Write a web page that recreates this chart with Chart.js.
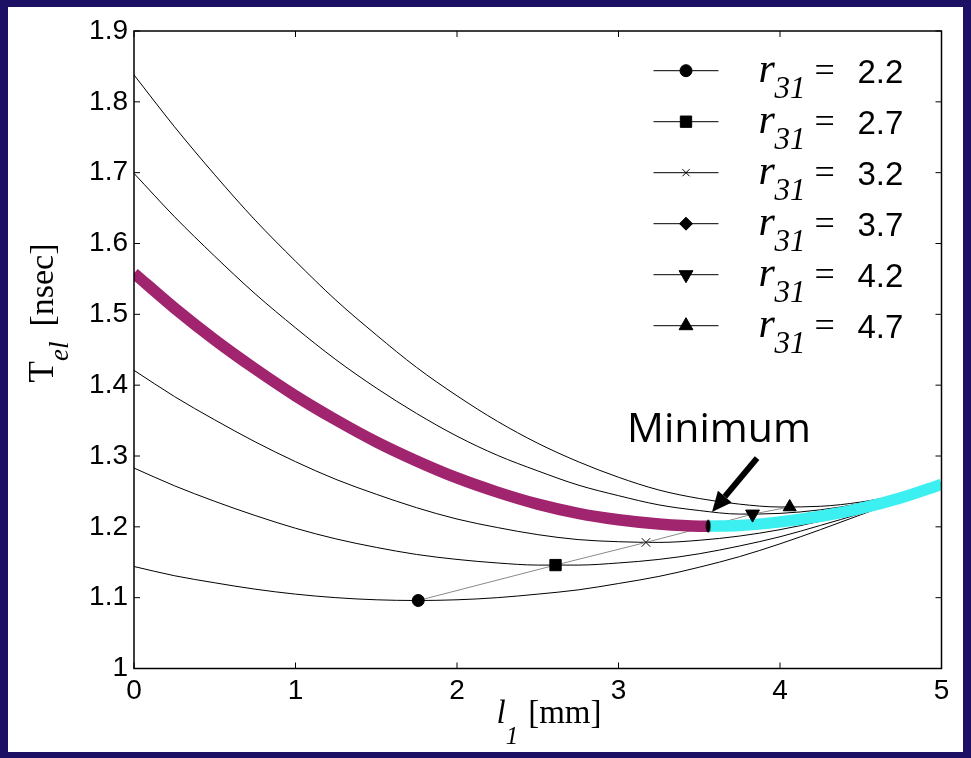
<!DOCTYPE html>
<html><head><meta charset="utf-8">
<script src="https://cdn.jsdelivr.net/npm/chart.js@4.4.0/dist/chart.umd.min.js"></script>
<style>
html,body{margin:0;padding:0;background:#1b1064;width:971px;height:758px;overflow:hidden}
#wrap{position:absolute;left:8px;top:7px;width:955px;height:745px;background:#fff}
</style></head><body><div id="wrap"><canvas id="c"></canvas></div>
<script>
// ---- data ----
const xs   = [0,0.25,0.5,0.75,1,1.25,1.5,1.75,2,2.25,2.5,2.75,3,3.25,3.5,3.75,4,4.25,4.5,4.75,5];
const r22  = [1.144,1.131,1.121,1.112,1.105,1.100,1.097,1.096,1.097,1.100,1.105,1.111,1.120,1.130,1.143,1.158,1.176,1.196,1.217,1.238,1.259];
const r27  = [1.283,1.258,1.236,1.216,1.198,1.183,1.171,1.161,1.154,1.149,1.146,1.146,1.149,1.154,1.162,1.173,1.186,1.202,1.219,1.239,1.261];
const r32  = [1.421,1.384,1.351,1.320,1.292,1.267,1.246,1.227,1.211,1.199,1.189,1.182,1.179,1.178,1.181,1.187,1.196,1.208,1.222,1.239,1.259];
const r37  = [1.558,1.509,1.464,1.423,1.385,1.351,1.320,1.293,1.269,1.249,1.232,1.219,1.210,1.204,1.201,1.202,1.207,1.215,1.226,1.241,1.260];
const r42  = [1.699,1.638,1.582,1.529,1.481,1.436,1.396,1.360,1.328,1.301,1.279,1.259,1.244,1.231,1.223,1.218,1.219,1.224,1.233,1.246,1.263];
const r47  = [1.838,1.765,1.697,1.633,1.575,1.520,1.471,1.425,1.385,1.349,1.318,1.292,1.270,1.252,1.240,1.232,1.228,1.229,1.235,1.246,1.261];
const minX = [1.76,2.61,3.17,3.556,3.83,4.06];
const minY = [1.096,1.146,1.178,1.201,1.218,1.228];
const seriesLabels = ['2.2','2.7','3.2','3.7','4.2','4.7'];
const yTickLabels = ['1','1.1','1.2','1.3','1.4','1.5','1.6','1.7','1.8','1.9'];
const xTickLabels = ['0','1','2','3','4','5'];
const annotText = 'Minimum';
const annotTextAt = {x:3.053, y:1.3197};
const arrowFrom = {x:3.858, y:1.297};
const arrowTo   = {x:3.579, y:1.221};
// ---------------------------------------

const SERIF = '"Liberation Serif","Times New Roman",serif';
const SANS  = '"Liberation Sans",Arial,sans-serif';
const curves = [r22, r27, r32, r37, r42, r47];
const pts = (ys) => xs.map((x,i)=>({x, y: ys[i]}));
const optIdx = 3;
const purple = xs.map((x,i)=>({x,y:r37[i]})).filter(p=>p.x < minX[optIdx]).concat([{x:minX[optIdx], y:minY[optIdx]}]);
const cyan = [{x:minX[optIdx], y:minY[optIdx]}].concat(xs.map((x,i)=>({x,y:r37[i]})).filter(p=>p.x > minX[optIdx]));
const minPts = minX.map((x,i)=>({x, y:minY[i]}));

// narrow ellipse marker (as in the reference for r31 = 3.7 minimum)
const ell = document.createElement('canvas');
ell.width = 6; ell.height = 14;
(function(){ const c = ell.getContext('2d'); c.fillStyle='#000'; c.beginPath(); c.ellipse(3,7,2.4,6.5,0,0,Math.PI*2); c.fill(); })();

const mStyles = ['circle','rect','crossRot', ell, 'triangle','triangle'];
const mRot    = [0,0,0,0,180,0];
const mRad    = [6,8,6,7,8,7.5];
const legStyles = ['circle','rect','crossRot','rectRot','triangle','triangle'];
const legRad    = [6,8,5,6.5,8,8];

const datasets = [];
datasets.push({label:'minima', data:minPts, showLine:false, order:0,
  pointStyle:mStyles, rotation:mRot, pointRotation:mRot, pointRadius:mRad, pointHoverRadius:mRad,
  backgroundColor:'#000', borderColor:'#000', pointBorderWidth:1});
datasets.push({label:'opt-left', data:purple, showLine:true, order:1, borderColor:'#a0246e', borderWidth:11.5,
  pointRadius:0, cubicInterpolationMode:'monotone', borderCapStyle:'butt'});
datasets.push({label:'opt-right', data:cyan, showLine:true, order:1, borderColor:'#3cf0f2', borderWidth:11.5,
  pointRadius:0, cubicInterpolationMode:'monotone', borderCapStyle:'butt'});
datasets.push({label:'min-line', data:minPts, showLine:true, order:2, borderColor:'#8a8a8a', borderWidth:1, pointRadius:0});
curves.forEach((c,i)=>datasets.push({label:'r31 = '+seriesLabels[i], data:pts(c), showLine:true, order:3,
  borderColor:'#000', borderWidth:1, pointRadius:0, cubicInterpolationMode:'monotone'}));

function drawParts(ctx, parts, x, y, align){
  let total = 0;
  const w = parts.map(p=>{ ctx.font = p.font; const ww = ctx.measureText(p.t).width + (p.gap||0); total += ww; return ww; });
  let cx = align==='center' ? x - total/2 : x;
  parts.forEach((p,i)=>{ ctx.font = p.font; ctx.fillText(p.t, cx + (p.gap||0), y + (p.dy||0)); cx += w[i]; });
}

const deco = {
  id:'deco',
  afterDraw(chart){
    const ctx = chart.ctx, a = chart.chartArea, xsc = chart.scales.x, ysc = chart.scales.y;
    ctx.save();
    // frame + inward ticks
    ctx.strokeStyle='#000'; ctx.lineWidth=1.5;
    ctx.strokeRect(a.left, a.top, a.right-a.left, a.bottom-a.top);
    ctx.lineWidth=1;
    const tl = 6;
    xsc.ticks.forEach(t=>{ const px = xsc.getPixelForValue(t.value);
      ctx.beginPath(); ctx.moveTo(px,a.bottom); ctx.lineTo(px,a.bottom-tl); ctx.moveTo(px,a.top); ctx.lineTo(px,a.top+tl); ctx.stroke(); });
    ysc.ticks.forEach(t=>{ const py = ysc.getPixelForValue(t.value);
      ctx.beginPath(); ctx.moveTo(a.left,py); ctx.lineTo(a.left+tl,py); ctx.moveTo(a.right,py); ctx.lineTo(a.right-tl,py); ctx.stroke(); });

    ctx.fillStyle='#000'; ctx.textBaseline='alphabetic'; ctx.textAlign='left';
    // x title
    drawParts(ctx, [
      {t:'l', font:'italic 33px '+SERIF},
      {t:'1', font:'italic 25px '+SERIF, dy:21},
      {t:'[mm]', font:'33px '+SERIF, gap:10}
    ], 541, 716, 'center');
    // y title
    ctx.save(); ctx.translate(45, 306); ctx.rotate(-Math.PI/2);
    drawParts(ctx, [
      {t:'T', font:'35px '+SERIF},
      {t:'el', font:'italic 27px '+SERIF, dy:15},
      {t:'[nsec]', font:'34px '+SERIF, gap:15}
    ], 0, 0, 'center');
    ctx.restore();

    // legend
    const lx0 = a.right - 288, lx1 = a.right - 223, mx = (lx0+lx1)/2;
    const ty0 = a.top + 39.7, step = 51;
    const H = Chart.helpers;
    seriesLabels.forEach((lab,i)=>{
      const y = ty0 + i*step;
      ctx.strokeStyle='#000'; ctx.lineWidth=1;
      ctx.beginPath(); ctx.moveTo(lx0,y); ctx.lineTo(lx1,y); ctx.stroke();
      ctx.fillStyle='#000';
      if (H && H.drawPoint) H.drawPoint(ctx, {pointStyle:legStyles[i], rotation: mRot[i], radius:legRad[i], borderWidth:1}, mx, y);
      ctx.fillStyle='#000';
      ctx.font='italic 42px '+SERIF; ctx.fillText('r', lx1+40, y+11);
      ctx.font='italic 31px '+SERIF; ctx.fillText('31', lx1+56, y+27);
      ctx.font='36px '+SERIF; ctx.fillText('=', lx1+96, y+11);
      ctx.font='33px '+SANS; ctx.fillText(lab, lx1+139, y+12);
    });

    // annotation
    ctx.fillStyle='#000';
    ctx.font='41px "Open Sans",sans-serif';
    ctx.fillText(annotText, xsc.getPixelForValue(annotTextAt.x), ysc.getPixelForValue(annotTextAt.y));
    const fx = xsc.getPixelForValue(arrowFrom.x), fy = ysc.getPixelForValue(arrowFrom.y);
    const tx = xsc.getPixelForValue(arrowTo.x),   ty = ysc.getPixelForValue(arrowTo.y);
    const ang = Math.atan2(ty-fy, tx-fx), hl = 20, hw = 9;
    const bx = tx - Math.cos(ang)*hl, by = ty - Math.sin(ang)*hl;
    ctx.strokeStyle='#000'; ctx.lineWidth=6; ctx.lineCap='butt';
    ctx.beginPath(); ctx.moveTo(fx,fy); ctx.lineTo(bx,by); ctx.stroke();
    ctx.beginPath(); ctx.moveTo(tx,ty);
    ctx.lineTo(bx + Math.sin(ang)*hw, by - Math.cos(ang)*hw);
    ctx.lineTo(bx - Math.sin(ang)*hw, by + Math.cos(ang)*hw);
    ctx.closePath(); ctx.fill();
    ctx.restore();
  }
};

new Chart(document.getElementById('c'), {
  type:'scatter',
  data:{datasets},
  options:{
    responsive:true, maintainAspectRatio:false, animation:false,
    layout:{padding:{top:24, right:21.5, left:0, bottom:0}},
    plugins:{legend:{display:false}, tooltip:{enabled:false}},
    scales:{
      x:{type:'linear', min:0, max:5,
        grid:{display:false, drawTicks:false}, border:{display:false},
        ticks:{stepSize:1, padding:6, color:'#000', font:{family:SANS, size:28},
          callback:(v,i)=>xTickLabels[i]},
        afterFit:(s)=>{ s.height = 83.5; }},
      y:{type:'linear', min:1, max:1.9,
        grid:{display:false, drawTicks:false}, border:{display:false},
        ticks:{stepSize:0.1, padding:6, color:'#000', font:{family:SANS, size:28},
          callback:(v,i)=>yTickLabels[i]},
        afterFit:(s)=>{ s.width = 126; }}
    }
  },
  plugins:[deco]
});
</script></body></html>
